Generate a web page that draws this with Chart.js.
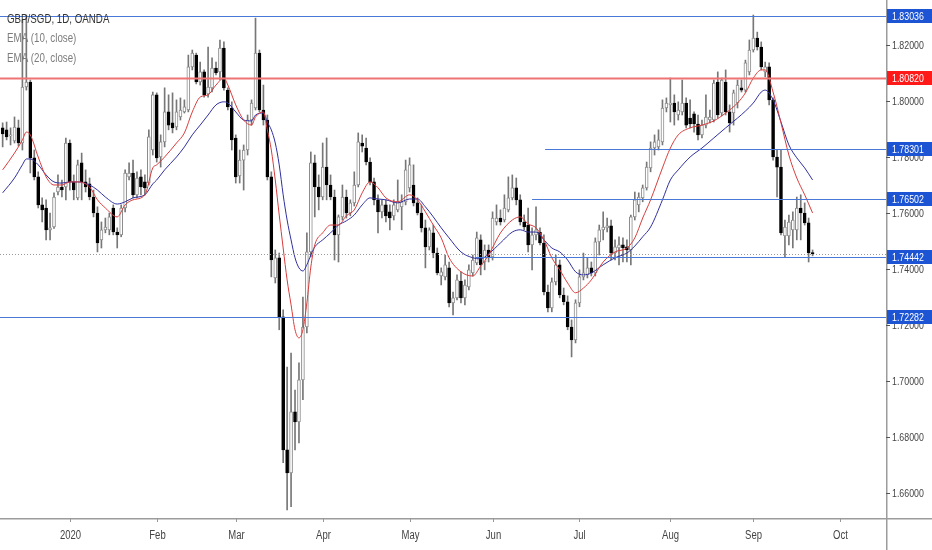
<!DOCTYPE html>
<html>
<head>
<meta charset="utf-8">
<title>GBP/SGD, 1D, OANDA</title>
<script src="https://cdn.jsdelivr.net/npm/chart.js@4.4.0/dist/chart.umd.min.js"></script>
<style>
  html, body { margin: 0; padding: 0; background: #fff; }
  #wrap { width: 932px; height: 550px; position: relative; }
</style>
</head>
<body>
<div id="wrap"><canvas id="chart"></canvas></div>
<script>
// trading day index of the first candle (0 = 2 Jan 2020)
const firstDay = -17;

const opens = [
  1.7904, 1.7897, 1.7875, 1.7857, 1.7904, 1.7850, 1.8050, 1.8068, 1.7797, 1.7729,
  1.7629, 1.7618, 1.7540, 1.7550, 1.7675, 1.7693, 1.7693, 1.7850, 1.7711, 1.7654,
  1.7779, 1.7711, 1.7704, 1.7657, 1.7600, 1.7504, 1.7540, 1.7540, 1.7618, 1.7532,
  1.7522, 1.7618, 1.7729, 1.7743, 1.7665, 1.7729, 1.7711, 1.7707, 1.7825, 1.8022,
  1.7800, 1.7854, 1.7961, 1.7922, 1.7907, 1.7943, 1.7961, 1.7968, 1.8122, 1.8164,
  1.8068, 1.8104, 1.8025, 1.8047, 1.8118, 1.8104, 1.8189, 1.8039, 1.7975, 1.7868,
  1.7732, 1.7789, 1.7825, 1.7932, 1.7975, 1.8171, 1.7968, 1.7932, 1.7729, 1.7368,
  1.7440, 1.7229, 1.6754, 1.6672, 1.6890, 1.6854, 1.7004, 1.7193, 1.7461, 1.7779,
  1.7693, 1.7657, 1.7764, 1.7700, 1.7657, 1.7522, 1.7586, 1.7657, 1.7600, 1.7636,
  1.7700, 1.7850, 1.7832, 1.7782, 1.7711, 1.7647, 1.7604, 1.7629, 1.7604, 1.7590,
  1.7611, 1.7622, 1.7640, 1.7690, 1.7700, 1.7636, 1.7600, 1.7547, 1.7479, 1.7529,
  1.7457, 1.7375, 1.7372, 1.7404, 1.7279, 1.7297, 1.7357, 1.7297, 1.7336, 1.7386,
  1.7422, 1.7504, 1.7425, 1.7468, 1.7443, 1.7568, 1.7582, 1.7575, 1.7611, 1.7654,
  1.7690, 1.7647, 1.7568, 1.7557, 1.7486, 1.7522, 1.7532, 1.7493, 1.7318, 1.7261,
  1.7354, 1.7415, 1.7307, 1.7283, 1.7193, 1.7147, 1.7279, 1.7372, 1.7379, 1.7404,
  1.7386, 1.7497, 1.7540, 1.7547, 1.7554, 1.7457, 1.7475, 1.7486, 1.7479, 1.7468,
  1.7586, 1.7629, 1.7654, 1.7690, 1.7761, 1.7832, 1.7836, 1.7854, 1.7975, 1.7986,
  1.7993, 1.7950, 1.7961, 1.7993, 1.7939, 1.7954, 1.7918, 1.7879, 1.7914, 1.7932,
  1.7932, 1.8068, 1.7957, 1.8068, 1.7961, 1.7957, 1.7993, 1.8047, 1.8039, 1.8104,
  1.8182, 1.8225, 1.8193, 1.8104, 1.8122, 1.8004, 1.7800, 1.7764, 1.7518, 1.7518,
  1.7540, 1.7540, 1.7618, 1.7600, 1.7565, 1.7457
];
const highs = [
  1.7922, 1.7925, 1.7904, 1.7943, 1.7932, 1.8289, 1.8307, 1.8075, 1.7825, 1.7747,
  1.7654, 1.7647, 1.7600, 1.7672, 1.7736, 1.7718, 1.7868, 1.7861, 1.7736, 1.7789,
  1.7814, 1.7754, 1.7725, 1.7682, 1.7622, 1.7568, 1.7582, 1.7600, 1.7629, 1.7547,
  1.7629, 1.7754, 1.7779, 1.7789, 1.7747, 1.7754, 1.7736, 1.7897, 1.8032, 1.8029,
  1.7879, 1.8047, 1.8022, 1.8029, 1.8004, 1.8011, 1.8004, 1.8164, 1.8182, 1.8171,
  1.8139, 1.8111, 1.8193, 1.8154, 1.8139, 1.8218, 1.8211, 1.8047, 1.7997, 1.7879,
  1.7825, 1.7843, 1.7950, 1.8004, 1.8296, 1.8182, 1.8057, 1.7950, 1.7747, 1.7468,
  1.7457, 1.7254, 1.7050, 1.7100, 1.6968, 1.7065, 1.7300, 1.7529, 1.7818, 1.7807,
  1.7736, 1.7850, 1.7868, 1.7736, 1.7682, 1.7593, 1.7700, 1.7682, 1.7647, 1.7747,
  1.7886, 1.7879, 1.7868, 1.7797, 1.7725, 1.7665, 1.7647, 1.7647, 1.7629, 1.7647,
  1.7718, 1.7665, 1.7789, 1.7797, 1.7772, 1.7654, 1.7629, 1.7575, 1.7547, 1.7557,
  1.7475, 1.7404, 1.7450, 1.7425, 1.7318, 1.7379, 1.7390, 1.7361, 1.7415, 1.7450,
  1.7532, 1.7522, 1.7486, 1.7486, 1.7604, 1.7629, 1.7611, 1.7665, 1.7729, 1.7736,
  1.7725, 1.7665, 1.7593, 1.7618, 1.7547, 1.7622, 1.7547, 1.7522, 1.7343, 1.7368,
  1.7450, 1.7432, 1.7332, 1.7304, 1.7218, 1.7290, 1.7397, 1.7457, 1.7440, 1.7425,
  1.7511, 1.7557, 1.7604, 1.7582, 1.7575, 1.7504, 1.7515, 1.7511, 1.7504, 1.7593,
  1.7675, 1.7672, 1.7700, 1.7782, 1.7854, 1.7879, 1.7897, 1.8004, 1.8011, 1.8082,
  1.8022, 1.7997, 1.8075, 1.8011, 1.8004, 1.7961, 1.7950, 1.7932, 1.8022, 1.7968,
  1.8075, 1.8104, 1.8082, 1.8111, 1.7986, 1.8039, 1.8075, 1.8075, 1.8146, 1.8218,
  1.8307, 1.8246, 1.8211, 1.8139, 1.8136, 1.8011, 1.7825, 1.7825, 1.7575, 1.7593,
  1.7604, 1.7657, 1.7665, 1.7636, 1.7582, 1.7468
];
const lows = [
  1.7836, 1.7861, 1.7843, 1.7850, 1.7839, 1.7825, 1.8039, 1.7743, 1.7718, 1.7618,
  1.7568, 1.7504, 1.7504, 1.7545, 1.7665, 1.7657, 1.7647, 1.7682, 1.7647, 1.7647,
  1.7647, 1.7675, 1.7647, 1.7586, 1.7461, 1.7475, 1.7529, 1.7522, 1.7522, 1.7475,
  1.7515, 1.7604, 1.7718, 1.7654, 1.7654, 1.7665, 1.7665, 1.7700, 1.7807, 1.7782,
  1.7764, 1.7836, 1.7897, 1.7886, 1.7897, 1.7932, 1.7957, 1.7961, 1.8111, 1.8061,
  1.8057, 1.8014, 1.8014, 1.8032, 1.8093, 1.8075, 1.8039, 1.7968, 1.7825, 1.7707,
  1.7707, 1.7682, 1.7807, 1.7914, 1.7968, 1.7961, 1.7914, 1.7718, 1.7372, 1.7350,
  1.7183, 1.6708, 1.6540, 1.6551, 1.6754, 1.6779, 1.6933, 1.7172, 1.7443, 1.7586,
  1.7611, 1.7647, 1.7647, 1.7647, 1.7432, 1.7425, 1.7575, 1.7582, 1.7590, 1.7625,
  1.7693, 1.7818, 1.7772, 1.7700, 1.7629, 1.7529, 1.7582, 1.7568, 1.7540, 1.7575,
  1.7604, 1.7540, 1.7629, 1.7675, 1.7625, 1.7593, 1.7532, 1.7404, 1.7468, 1.7440,
  1.7379, 1.7343, 1.7361, 1.7265, 1.7236, 1.7290, 1.7279, 1.7272, 1.7325, 1.7375,
  1.7415, 1.7379, 1.7397, 1.7425, 1.7432, 1.7557, 1.7557, 1.7568, 1.7604, 1.7647,
  1.7629, 1.7557, 1.7540, 1.7461, 1.7397, 1.7504, 1.7486, 1.7307, 1.7247, 1.7247,
  1.7343, 1.7297, 1.7272, 1.7183, 1.7086, 1.7136, 1.7265, 1.7361, 1.7368, 1.7375,
  1.7375, 1.7450, 1.7504, 1.7532, 1.7432, 1.7432, 1.7415, 1.7425, 1.7425, 1.7415,
  1.7575, 1.7604, 1.7640, 1.7682, 1.7747, 1.7807, 1.7825, 1.7843, 1.7961, 1.7925,
  1.7914, 1.7932, 1.7950, 1.7904, 1.7904, 1.7889, 1.7861, 1.7868, 1.7904, 1.7922,
  1.7925, 1.7939, 1.7947, 1.7950, 1.7889, 1.7914, 1.7975, 1.8032, 1.8032, 1.8093,
  1.8175, 1.8182, 1.8111, 1.8086, 1.7986, 1.7789, 1.7657, 1.7522, 1.7443, 1.7486,
  1.7475, 1.7504, 1.7504, 1.7557, 1.7425, 1.7447
];
const closes = [
  1.7882, 1.7872, 1.7879, 1.7907, 1.7850, 1.8050, 1.8068, 1.7797, 1.7729, 1.7629,
  1.7611, 1.7540, 1.7547, 1.7657, 1.7693, 1.7682, 1.7850, 1.7711, 1.7682, 1.7772,
  1.7711, 1.7693, 1.7657, 1.7600, 1.7493, 1.7540, 1.7550, 1.7586, 1.7532, 1.7522,
  1.7618, 1.7743, 1.7743, 1.7665, 1.7725, 1.7693, 1.7690, 1.7872, 1.8022, 1.7797,
  1.7854, 1.7961, 1.7914, 1.7904, 1.7961, 1.7968, 1.7979, 1.8122, 1.8171, 1.8068,
  1.8104, 1.8022, 1.8050, 1.8118, 1.8100, 1.8189, 1.8047, 1.7979, 1.7861, 1.7729,
  1.7789, 1.7825, 1.7932, 1.7993, 1.8171, 1.7968, 1.7932, 1.7729, 1.7432, 1.7440,
  1.7229, 1.6754, 1.6672, 1.6890, 1.6854, 1.7004, 1.7193, 1.7461, 1.7779, 1.7693,
  1.7657, 1.7764, 1.7700, 1.7657, 1.7522, 1.7586, 1.7657, 1.7600, 1.7636, 1.7700,
  1.7854, 1.7839, 1.7782, 1.7711, 1.7647, 1.7604, 1.7629, 1.7590, 1.7582, 1.7629,
  1.7640, 1.7640, 1.7754, 1.7772, 1.7636, 1.7600, 1.7547, 1.7479, 1.7540, 1.7457,
  1.7386, 1.7390, 1.7415, 1.7279, 1.7297, 1.7361, 1.7297, 1.7343, 1.7397, 1.7432,
  1.7511, 1.7415, 1.7468, 1.7443, 1.7582, 1.7582, 1.7568, 1.7618, 1.7654, 1.7690,
  1.7647, 1.7568, 1.7550, 1.7486, 1.7522, 1.7540, 1.7493, 1.7318, 1.7261, 1.7354,
  1.7415, 1.7307, 1.7283, 1.7193, 1.7147, 1.7279, 1.7372, 1.7386, 1.7404, 1.7386,
  1.7497, 1.7540, 1.7550, 1.7554, 1.7457, 1.7479, 1.7486, 1.7475, 1.7468, 1.7586,
  1.7647, 1.7657, 1.7690, 1.7764, 1.7832, 1.7854, 1.7861, 1.7975, 1.7993, 1.7993,
  1.7961, 1.7968, 1.7993, 1.7914, 1.7918, 1.7918, 1.7879, 1.7914, 1.7943, 1.7943,
  1.8064, 1.7950, 1.8075, 1.7961, 1.7922, 1.8029, 1.8057, 1.8039, 1.8136, 1.8182,
  1.8225, 1.8193, 1.8122, 1.8122, 1.8004, 1.7800, 1.7764, 1.7529, 1.7550, 1.7568,
  1.7575, 1.7618, 1.7600, 1.7565, 1.7457, 1.7455
];

// EMA values at these trading days
const emaDays = [
  -17, -14, -12, -11, -10, -8, -6, -4, -2, 0, 2, 5, 7, 9, 12, 14, 16, 19, 21, 22,
  24, 27, 29, 31, 33, 35, 37, 39, 40, 42, 44, 46, 47, 49, 50, 51, 52, 53, 54, 55,
  56, 57, 58, 59, 60, 61, 62, 64, 66, 68, 70, 72, 74, 76, 78, 80, 83, 86, 88, 90,
  92, 94, 96, 99, 102, 104, 106, 109, 112, 114, 116, 118, 120, 122, 124, 126, 128, 130, 132, 135,
  138, 141, 143, 145, 147, 150, 152, 154, 157, 160, 163, 166, 169, 171, 173, 175, 176, 178, 180, 182,
  184, 186, 188
];
const ema10 = [
  1.7754, 1.7814, 1.7861, 1.7889, 1.7879, 1.7800, 1.7729, 1.7700, 1.7700, 1.7711,
  1.7711, 1.7693, 1.7647, 1.7618, 1.7586, 1.7629, 1.7647, 1.7665, 1.7761, 1.7772,
  1.7800, 1.7850, 1.7886, 1.7961, 1.8014, 1.8022, 1.8057, 1.8082, 1.8057, 1.7986,
  1.7932, 1.7914, 1.7943, 1.7961, 1.7897, 1.7825, 1.7718, 1.7593, 1.7475, 1.7361,
  1.7272, 1.7183, 1.7154, 1.7183, 1.7279, 1.7407, 1.7486, 1.7529, 1.7557, 1.7557,
  1.7590, 1.7611, 1.7672, 1.7711, 1.7690, 1.7654, 1.7640, 1.7665, 1.7647, 1.7604,
  1.7557, 1.7511, 1.7440, 1.7390, 1.7375, 1.7411, 1.7450, 1.7529, 1.7575, 1.7586,
  1.7561, 1.7547, 1.7504, 1.7440, 1.7397, 1.7350, 1.7315, 1.7332, 1.7361, 1.7425,
  1.7461, 1.7475, 1.7511, 1.7582, 1.7647, 1.7761, 1.7832, 1.7879, 1.7904, 1.7914,
  1.7929, 1.7957, 1.7993, 1.8029, 1.8082, 1.8111, 1.8111, 1.8032, 1.7922, 1.7807,
  1.7725, 1.7665, 1.7600
];
const ema20 = [
  1.7672, 1.7725, 1.7772, 1.7793, 1.7793, 1.7772, 1.7736, 1.7711, 1.7707, 1.7711,
  1.7711, 1.7700, 1.7682, 1.7657, 1.7632, 1.7640, 1.7654, 1.7665, 1.7704, 1.7718,
  1.7754, 1.7800, 1.7836, 1.7879, 1.7914, 1.7950, 1.7986, 1.7997, 1.7993, 1.7961,
  1.7932, 1.7929, 1.7950, 1.7957, 1.7925, 1.7897, 1.7850, 1.7772, 1.7665, 1.7575,
  1.7504, 1.7440, 1.7404, 1.7393, 1.7415, 1.7450, 1.7479, 1.7504, 1.7529, 1.7557,
  1.7572, 1.7593, 1.7629, 1.7654, 1.7650, 1.7647, 1.7636, 1.7650, 1.7650, 1.7622,
  1.7586, 1.7547, 1.7511, 1.7461, 1.7440, 1.7436, 1.7454, 1.7493, 1.7532, 1.7540,
  1.7532, 1.7532, 1.7504, 1.7475, 1.7461, 1.7432, 1.7390, 1.7379, 1.7386, 1.7415,
  1.7440, 1.7457, 1.7482, 1.7515, 1.7550, 1.7647, 1.7718, 1.7754, 1.7800, 1.7832,
  1.7868, 1.7904, 1.7939, 1.7964, 1.7993, 1.8032, 1.8039, 1.8004, 1.7925, 1.7843,
  1.7797, 1.7761, 1.7718
];

const monthDays = [0, 22, 42, 64, 86, 107, 129, 152, 173, 195];
const monthLabels = ['2020', 'Feb', 'Mar', 'Apr', 'May', 'Jun', 'Jul', 'Aug', 'Sep', 'Oct'];
const priceTicks = [1.66, 1.68, 1.70, 1.72, 1.74, 1.76, 1.78, 1.80, 1.82];

// horizontal levels, and the day each ray starts from (null = whole width)
const levelPrices = [1.83036, 1.80820, 1.78301, 1.76502, 1.74442, 1.72282];
const levelFrom = [null, null, 120.3, 117, 102.6, null];
const lastPrice = 1.7455;

const BLUE_LINE = '#4a78d8';
const BLUE_BOX = '#1c54d3';
const RED_LINE = '#f07373';
const RED_BOX = '#ff1a1a';
const FONT = '"Liberation Sans", Arial, sans-serif';

const isUp = i => closes[i] >= opens[i];

const bodies = closes.map((c, i) => ({ x: firstDay + i, y: [opens[i], c] }));
const wicks = highs.map((h, i) => ({ x: firstDay + i, y: [lows[i], h] }));

function squeezeText(ctx, text, x, y, size, color, align, sx) {
  ctx.save();
  ctx.font = size + 'px ' + FONT;
  ctx.fillStyle = color;
  ctx.textAlign = align;
  ctx.textBaseline = 'middle';
  ctx.translate(x, y);
  ctx.scale(sx, 1);
  ctx.fillText(text, 0, 0);
  ctx.restore();
}

const overlay = {
  id: 'overlay',
  afterDatasetsDraw(chart) {
    const { ctx, chartArea: a, scales: { x, y } } = chart;
    ctx.save();
    ctx.beginPath();
    ctx.rect(a.left, a.top, a.right - a.left, a.bottom - a.top);
    ctx.clip();

    // last price dotted line
    const ly = Math.round(y.getPixelForValue(lastPrice)) + 0.5;
    ctx.strokeStyle = '#9a9a9a';
    ctx.lineWidth = 1;
    ctx.setLineDash([1, 2]);
    ctx.beginPath();
    ctx.moveTo(a.left, ly);
    ctx.lineTo(a.right, ly);
    ctx.stroke();
    ctx.setLineDash([]);

    levelPrices.forEach((p, i) => {
      const py = Math.round(y.getPixelForValue(p)) + 0.5;
      const x0 = levelFrom[i] === null ? a.left : x.getPixelForValue(levelFrom[i]);
      const red = i === 1;
      ctx.strokeStyle = red ? RED_LINE : BLUE_LINE;
      ctx.lineWidth = red ? 2 : 1;
      ctx.beginPath();
      ctx.moveTo(x0, py);
      ctx.lineTo(a.right, py);
      ctx.stroke();
    });
    ctx.restore();
  },
  afterDraw(chart) {
    const { ctx, chartArea: a, scales: { x, y }, width, height } = chart;
    ctx.save();

    // axis borders
    ctx.strokeStyle = '#9c9c9c';
    ctx.lineWidth = 1.5;
    ctx.beginPath();
    ctx.moveTo(0, a.bottom + 0.75);
    ctx.lineTo(width, a.bottom + 0.75);
    ctx.moveTo(a.right + 0.75, 0);
    ctx.lineTo(a.right + 0.75, height);
    ctx.stroke();
    ctx.lineWidth = 1;

    // price scale
    priceTicks.forEach(p => {
      const py = Math.round(y.getPixelForValue(p)) + 0.5;
      ctx.strokeStyle = '#555';
      ctx.beginPath();
      ctx.moveTo(a.right, py);
      ctx.lineTo(a.right + 4, py);
      ctx.stroke();
      squeezeText(ctx, p.toFixed(5), a.right + 6, py, 11, '#444444', 'left', 0.8);
    });

    // level labels
    levelPrices.forEach((p, i) => {
      const py = Math.round(y.getPixelForValue(p));
      ctx.fillStyle = i === 1 ? RED_BOX : BLUE_BOX;
      ctx.fillRect(a.right + 1, py - 7, width - a.right - 1, 14);
      squeezeText(ctx, p.toFixed(5), a.right + 6, py + 0.5, 11, '#ffffff', 'left', 0.8);
    });

    // time scale
    monthDays.forEach((d, i) => {
      const px = Math.round(x.getPixelForValue(d)) + 0.5;
      ctx.strokeStyle = '#999';
      ctx.beginPath();
      ctx.moveTo(px, a.bottom);
      ctx.lineTo(px, a.bottom + 4);
      ctx.stroke();
      squeezeText(ctx, monthLabels[i], px, a.bottom + 18, 12.5, '#444444', 'center', 0.76);
    });

    // legend
    squeezeText(ctx, 'GBP/SGD, 1D, OANDA', 7, 19, 13, '#333333', 'left', 0.75);
    squeezeText(ctx, 'EMA (10, close)', 7, 38.5, 13, '#7c7c7c', 'left', 0.75);
    squeezeText(ctx, 'EMA (20, close)', 7, 58, 13, '#7c7c7c', 'left', 0.75);
    ctx.restore();
  }
};

new Chart(document.getElementById('chart'), {
  type: 'bar',
  data: {
    datasets: [
      {
        type: 'line',
        label: 'EMA (10, close)',
        data: emaDays.map((d, i) => ({ x: d, y: ema10[i] })),
        borderColor: '#d83c3c',
        borderWidth: 1,
        pointRadius: 0,
        cubicInterpolationMode: 'monotone',
        order: 0
      },
      {
        type: 'line',
        label: 'EMA (20, close)',
        data: emaDays.map((d, i) => ({ x: d, y: ema20[i] })),
        borderColor: '#2f2f9e',
        borderWidth: 1,
        pointRadius: 0,
        cubicInterpolationMode: 'monotone',
        order: 0
      },
      {
        label: 'body',
        data: bodies,
        backgroundColor: c => isUp(c.dataIndex) ? '#ffffff' : '#000000',
        borderColor: c => isUp(c.dataIndex) ? '#8c8c8c' : '#000000',
        borderWidth: 1,
        borderSkipped: false,
        barThickness: 3,
        minBarLength: 1,
        grouped: false,
        order: 1
      },
      {
        label: 'wick',
        data: wicks,
        backgroundColor: '#777777',
        borderWidth: 0,
        barThickness: 1,
        grouped: false,
        order: 2
      }
    ]
  },
  options: {
    responsive: true,
    maintainAspectRatio: false,
    animation: false,
    events: [],
    layout: { padding: 0 },
    plugins: {
      legend: { display: false },
      tooltip: { enabled: false }
    },
    scales: {
      x: {
        type: 'linear',
        min: -17.67,
        max: 206.58,
        offset: false,
        grid: { display: false },
        border: { display: false },
        ticks: { display: false },
        afterFit: s => { s.height = 32; }
      },
      y: {
        position: 'right',
        min: 1.65107,
        max: 1.83607,
        beginAtZero: false,
        grid: { display: false },
        border: { display: false },
        ticks: { display: false },
        afterFit: s => { s.width = 46; }
      }
    }
  },
  plugins: [overlay]
});
</script>
</body>
</html>
